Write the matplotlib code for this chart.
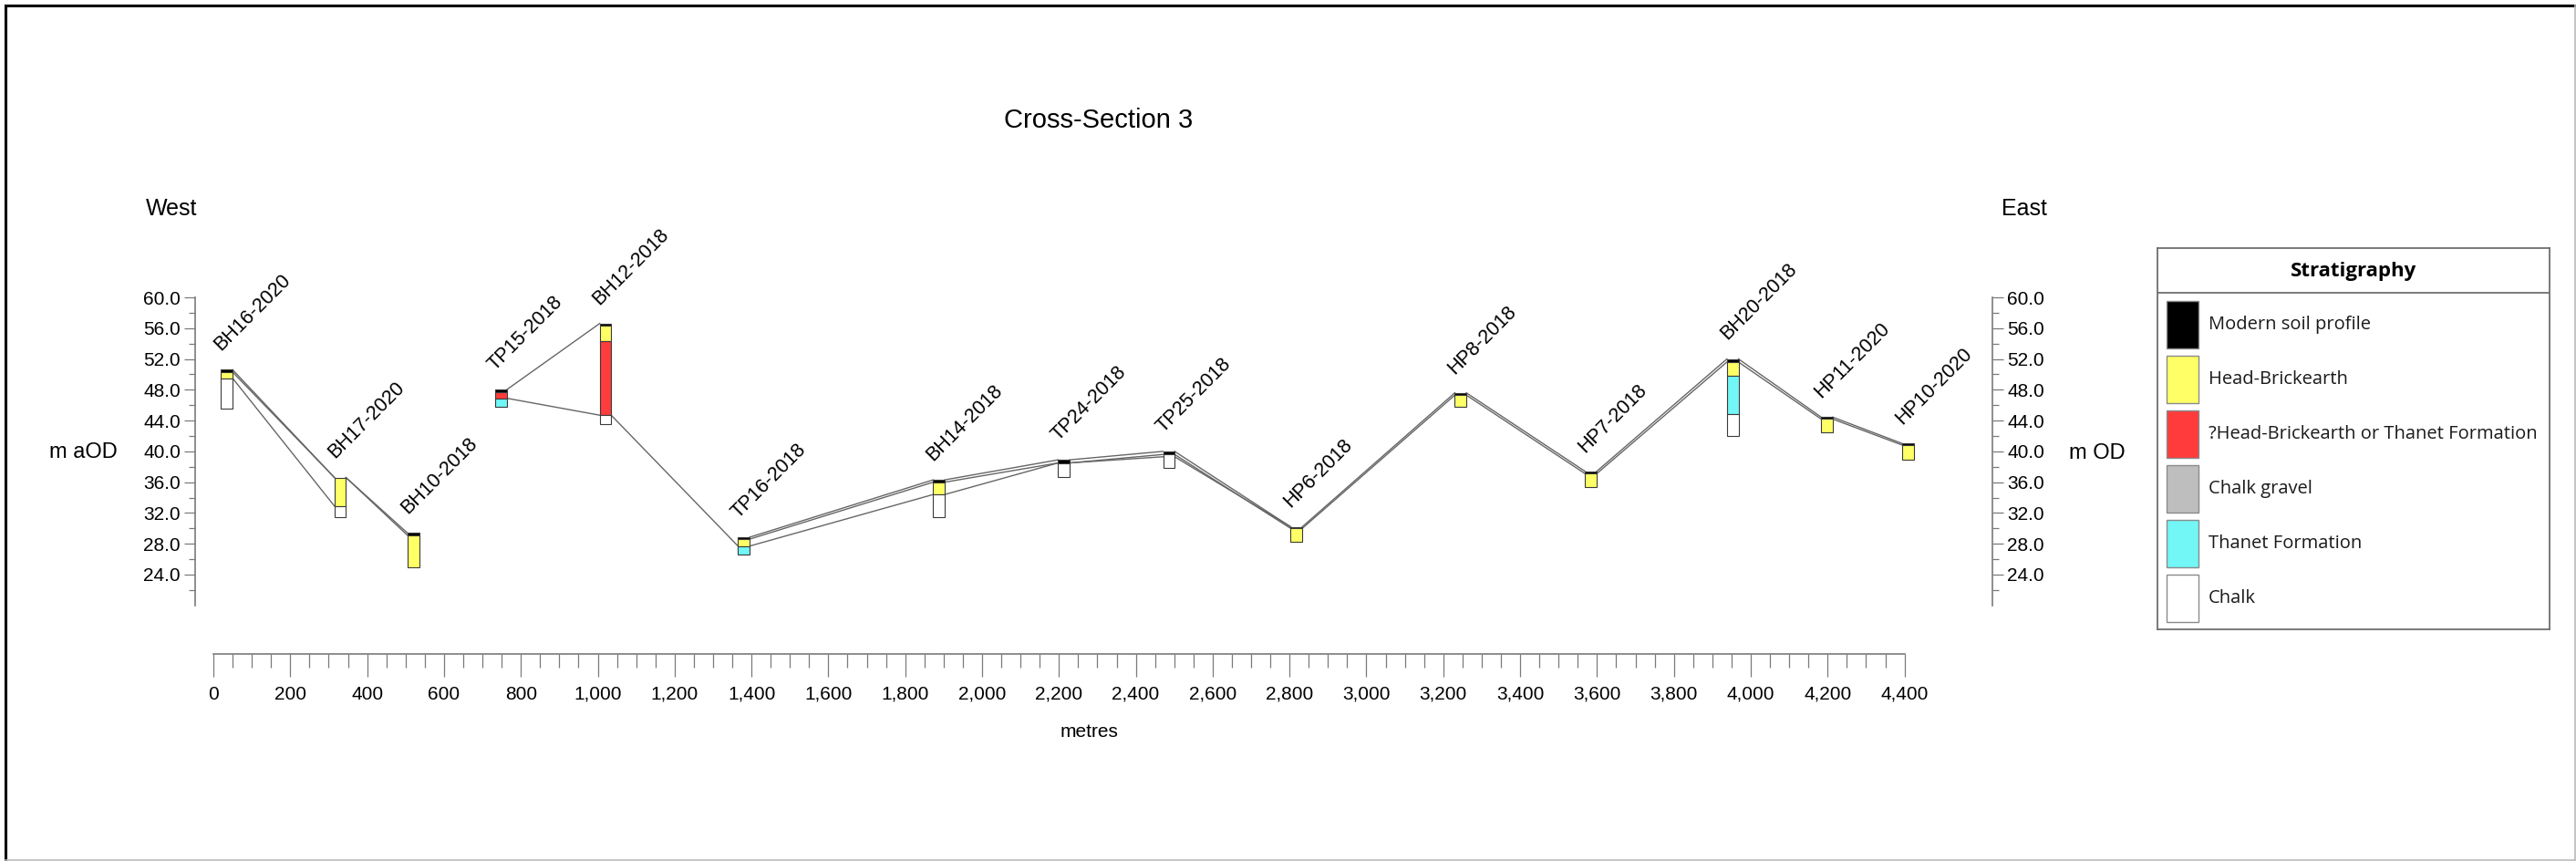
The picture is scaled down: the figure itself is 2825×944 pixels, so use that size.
import numpy as np
import matplotlib
matplotlib.use('Agg')
import matplotlib.pyplot as plt
from matplotlib.ticker import FixedLocator, FuncFormatter
from matplotlib.lines import Line2D
from matplotlib.patches import Rectangle

plt.rcParams['font.family'] = ['Liberation Sans', 'DejaVu Sans']

# key units (key order) and their fill colours
units = ['Modern soil profile', 'Head-Brickearth', '?Head-Brickearth or Thanet Formation',
         'Chalk gravel', 'Thanet Formation', 'Chalk']
unit_colors = ['#000000', '#FFFF66', '#FF3B3B', '#BEBEBE', '#72F6F6', '#FFFFFF']

# boreholes / pits along the section
bh_names = ['BH16-2020', 'BH17-2020', 'BH10-2018', 'TP15-2018', 'BH12-2018', 'TP16-2018',
            'BH14-2018', 'TP24-2018', 'TP25-2018', 'HP6-2018', 'HP8-2018', 'HP7-2018',
            'BH20-2018', 'HP11-2020', 'HP10-2020']
bh_chain = [35, 330, 520, 748, 1020, 1380, 1888, 2213, 2486, 2818, 3245, 3584, 3953, 4198, 4410]
# unit index per layer, top down
bh_units = [[0, 1, 5], [1, 5], [0, 1], [0, 2, 4], [0, 1, 2, 5], [0, 1, 4],
            [0, 1, 5], [0, 5], [0, 5], [0, 1], [0, 1], [0, 1],
            [0, 1, 4, 5], [0, 1], [0, 1]]
# layer boundaries, m aOD, top down
bh_levels = [[50.6, 50.3, 49.5, 45.6], [36.6, 32.9, 31.5], [29.4, 29.1, 24.9],
             [48.0, 47.7, 46.9, 45.8], [56.6, 56.3, 54.3, 44.7, 43.5], [28.85, 28.6, 27.7, 26.6],
             [36.3, 36.0, 34.4, 31.4], [38.9, 38.5, 36.7], [40.0, 39.6, 37.8],
             [30.2, 30.0, 28.3], [47.6, 47.3, 45.8], [37.4, 37.1, 35.4],
             [52.0, 51.6, 49.8, 44.8, 42.0], [44.45, 44.2, 42.5], [41.0, 40.8, 38.9]]

# correlation lines: holes joined and level at each hole
corr_holes = [[0, 1, 2], [3, 4], list(range(5, 15)),
              [0, 1, 2], list(range(5, 15)),
              [0, 1], [3, 4, 5], [5, 6, 7, 8, 9]]
corr_levels = [[50.6, 36.6, 29.4], [48.0, 56.6],
               [28.85, 36.3, 38.9, 40.0, 30.2, 47.6, 37.4, 52.0, 44.45, 41.0],
               [50.3, 36.6, 29.1],
               [28.6, 36.0, 38.5, 39.6, 30.0, 47.3, 37.1, 51.6, 44.2, 40.8],
               [49.5, 32.9], [46.9, 44.7, 27.7], [27.7, 34.4, 38.5, 39.3, 30.2]]

x_ticks = np.arange(0, 4401, 200)
x_minor = np.arange(0, 4401, 50)
y_ticks = np.arange(24, 61, 4)
y_minor = np.arange(22, 60, 4)

W, H = 2825, 944
fig = plt.figure(figsize=(W / 100, H / 100), dpi=100)


def fx(px):
    return px / W


def fy(py):
    return 1 - py / H


m0_px, px_per_m = 234, 0.4215      # chainage 0 and scale
top_px, px_per_lvl = 326, 8.444    # 60 m aOD and scale
ax_l, ax_r, ax_b = 214, 2185, 717
ax = fig.add_axes([fx(ax_l), fy(ax_b), (ax_r - ax_l) / W, (ax_b - top_px) / H])
ax.set_xlim((ax_l - m0_px) / px_per_m, (ax_r - m0_px) / px_per_m)
ax.set_ylim(60 - (ax_b - top_px) / px_per_lvl, 60)
ax.patch.set_visible(False)

axis_grey = '#7a7a7a'
for s in ['left', 'right', 'bottom']:
    ax.spines[s].set_color(axis_grey)
    ax.spines[s].set_linewidth(1.2)
ax.spines['top'].set_visible(False)
ax.spines['left'].set_bounds(20, 60)
ax.spines['right'].set_bounds(20, 60)
ax.spines['bottom'].set_bounds(0, 4400)

ax.xaxis.set_major_locator(FixedLocator(x_ticks))
ax.xaxis.set_minor_locator(FixedLocator(x_minor))
ax.xaxis.set_major_formatter(FuncFormatter(lambda v, p: '{:,.0f}'.format(v)))
ax.yaxis.set_major_locator(FixedLocator(y_ticks))
ax.yaxis.set_minor_locator(FixedLocator(y_minor))
ax.yaxis.set_major_formatter(FuncFormatter(lambda v, p: '%.1f' % v))
ax.tick_params(axis='x', which='major', length=18, width=0.9, color=axis_grey,
               labelsize=15, pad=7)
ax.tick_params(axis='x', which='minor', length=10.5, width=0.9, color=axis_grey)
ax.tick_params(axis='y', which='both', left=True, right=True, labelleft=True,
               labelright=True, direction='out', color=axis_grey, width=0.9)
ax.tick_params(axis='y', which='major', length=8.6, labelsize=15, pad=3)
ax.tick_params(axis='y', which='minor', length=5)

w = 30  # column width in metres
for xi, us, lv in zip(bh_chain, bh_units, bh_levels):
    for k, u in enumerate(us):
        ax.bar(xi, lv[k] - lv[k + 1], bottom=lv[k + 1], width=w,
               color=unit_colors[u], edgecolor='#3a3a3a', linewidth=0.8, zorder=3)

for holes, lv in zip(corr_holes, corr_levels):
    for a, b, la, lb in zip(holes[:-1], holes[1:], lv[:-1], lv[1:]):
        ax.plot([bh_chain[a] + w / 2, bh_chain[b] - w / 2], [la, lb],
                color='#666666', lw=1.0, zorder=2)

for name, xi, lv in zip(bh_names, bh_chain, bh_levels):
    ax.annotate(name, xy=(xi, lv[0]), xytext=(-2, 12), textcoords='offset points',
                rotation=45, rotation_mode='anchor', ha='left', va='bottom',
                fontsize=15.5, annotation_clip=False)

fig.text(fx(1205), fy(132), 'Cross-Section 3', fontsize=21, ha='center', va='center')
fig.text(fx(188), fy(229), 'West', fontsize=18, ha='center', va='center')
fig.text(fx(2220), fy(229), 'East', fontsize=18, ha='center', va='center')
fig.text(fx(91), fy(496), 'm aOD', fontsize=17, ha='center', va='center')
fig.text(fx(2300), fy(497), 'm OD', fontsize=17, ha='center', va='center')
fig.text(fx(1195), fy(803), 'metres', fontsize=15, ha='center', va='center')

# stratigraphy key, drawn in pixel units
kl, kt, kr, kb = 2366, 272, 2796, 690
kax = fig.add_axes([fx(kl), fy(kb), (kr - kl) / W, (kb - kt) / H])
kax.set_xlim(0, kr - kl)
kax.set_ylim(kb - kt, 0)
kax.set_xticks([])
kax.set_yticks([])
for s in kax.spines.values():
    s.set_color('#6e6e6e')
    s.set_linewidth(1.3)
kax.axhline(49, color='#6e6e6e', lw=1.3)
kax.text((kr - kl) / 2, 25, 'Stratigraphy', fontsize=16, fontweight='bold',
         family='Open Sans', ha='center', va='center')
for i, (u, c) in enumerate(zip(units, unit_colors)):
    y0 = 58 + 60 * i
    kax.add_patch(Rectangle((10, y0), 35, 52, facecolor=c, edgecolor='#8a8a8a', lw=1.0))
    kax.text(56, y0 + 26, u, fontsize=14.5, family='Open Sans', ha='left', va='center',
             color='#1a1a1a')

# outer frame
fig.add_artist(Line2D([fx(6), fx(6)], [fy(6), fy(943)], color='black', lw=2.2))
fig.add_artist(Line2D([fx(6), fx(2824)], [fy(6), fy(6)], color='black', lw=2.2))
fig.add_artist(Line2D([fx(2823.5), fx(2823.5)], [fy(6), fy(943)], color='#bbbbbb', lw=1.2))
fig.add_artist(Line2D([fx(6), fx(2824)], [fy(943), fy(943)], color='#bbbbbb', lw=1.2))

fig.savefig('out.png', dpi=100)
